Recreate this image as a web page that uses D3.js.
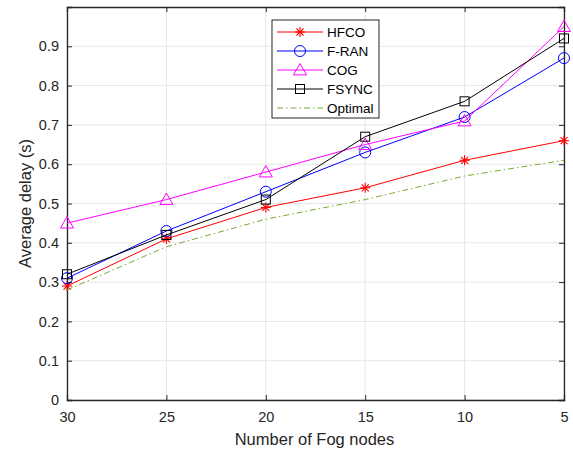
<!DOCTYPE html>
<html><head><meta charset="utf-8">
<script src="https://cdn.jsdelivr.net/npm/d3@7"></script>
<style>body{margin:0;background:#fff}svg{display:block;font-family:"Liberation Sans",Arial,sans-serif}</style>
</head><body><svg id="c" width="573" height="451"></svg>
<script>
const xValues = [30, 25, 20, 15, 10, 5];
const yTicks = [0, 0.1, 0.2, 0.3, 0.4, 0.5, 0.6, 0.7, 0.8, 0.9];
const seriesNames = ["HFCO", "F-RAN", "COG", "FSYNC", "Optimal"];
const hfco = [0.29, 0.41, 0.49, 0.54, 0.61, 0.66];
const fran = [0.31, 0.43, 0.53, 0.63, 0.72, 0.87];
const cog = [0.45, 0.51, 0.58, 0.65, 0.71, 0.95];
const fsync = [0.32, 0.42, 0.51, 0.67, 0.76, 0.92];
const optimal = [0.28, 0.39, 0.46, 0.51, 0.57, 0.61];

const series = [
  {name: seriesNames[0], vals: hfco, color: "#ff0000", marker: "star", dash: null},
  {name: seriesNames[1], vals: fran, color: "#0000ff", marker: "circle", dash: null},
  {name: seriesNames[2], vals: cog, color: "#ff00ff", marker: "triangle", dash: null},
  {name: seriesNames[3], vals: fsync, color: "#000000", marker: "square", dash: null},
  {name: seriesNames[4], vals: optimal, color: "#77ac30", marker: null, dash: "6,3,1.5,3"}
];

const svg = d3.select("#c");
const L = 67, R = 564, T = 7, B = 400;
const x = d3.scaleLinear().domain([30, 5]).range([L, R]);
const y = d3.scaleLinear().domain([0, 1]).range([B, T]);

// grid
const g = svg.append("g");
g.selectAll("line.gx").data(xValues).enter().append("line")
  .attr("x1", d => x(d)).attr("x2", d => x(d)).attr("y1", T).attr("y2", B)
  .attr("stroke", "#e6e6e6").attr("stroke-width", 1);
g.selectAll("line.gy").data(yTicks).enter().append("line")
  .attr("x1", L).attr("x2", R).attr("y1", d => y(d)).attr("y2", d => y(d))
  .attr("stroke", "#e6e6e6").attr("stroke-width", 1);

// axes
const axColor = "#262626";
const xAxis = svg.append("g").attr("transform", `translate(0,${B})`)
  .call(d3.axisBottom(x).tickValues(xValues).tickSize(-5).tickPadding(12).tickFormat(d3.format("d")));
const yAxis = svg.append("g").attr("transform", `translate(${L},0)`)
  .call(d3.axisLeft(y).tickValues(yTicks).tickSize(-5).tickPadding(8).tickFormat(d => d === 0 ? "0" : d3.format(".1f")(d)));
const xTop = svg.append("g").attr("transform", `translate(0,${T})`)
  .call(d3.axisTop(x).tickValues(xValues).tickSize(-5).tickFormat(""));
const yRight = svg.append("g").attr("transform", `translate(${R},0)`)
  .call(d3.axisRight(y).tickValues(yTicks).tickSize(-5).tickFormat(""));
[xAxis, yAxis, xTop, yRight].forEach(a => {
  a.selectAll("path").attr("stroke", axColor).attr("stroke-width", 1.3);
  a.selectAll("line").attr("stroke", axColor);
  a.selectAll("text").attr("fill", axColor).style("font-size", "14.5px").style("font-family", "Liberation Sans, Arial, sans-serif");
});

svg.append("text").attr("x", (L + R) / 2 - 1).attr("y", 445).attr("text-anchor", "middle")
  .attr("fill", axColor).style("font-size", "16.5px").text("Number of Fog nodes");
svg.append("text").attr("transform", `translate(31,${(T + B) / 2}) rotate(-90)`).attr("text-anchor", "middle")
  .attr("fill", axColor).style("font-size", "16.5px").text("Average delay (s)");

function drawMarker(sel, type, color, cx, cy) {
  if (type === "star") {
    const s = 5;
    const p = sel.append("g").attr("stroke", color).attr("stroke-width", 1.1);
    p.append("line").attr("x1", cx - s).attr("x2", cx + s).attr("y1", cy).attr("y2", cy);
    p.append("line").attr("x1", cx).attr("x2", cx).attr("y1", cy - s).attr("y2", cy + s);
    p.append("line").attr("x1", cx - s * 0.7).attr("x2", cx + s * 0.7).attr("y1", cy - s * 0.7).attr("y2", cy + s * 0.7);
    p.append("line").attr("x1", cx - s * 0.7).attr("x2", cx + s * 0.7).attr("y1", cy + s * 0.7).attr("y2", cy - s * 0.7);
  } else if (type === "circle") {
    sel.append("circle").attr("cx", cx).attr("cy", cy).attr("r", 5.5).attr("fill", "none").attr("stroke", color).attr("stroke-width", 1);
  } else if (type === "triangle") {
    const s = 6.5;
    sel.append("path").attr("d", `M${cx},${cy - s}L${cx + s},${cy + s * 0.75}L${cx - s},${cy + s * 0.75}Z`)
      .attr("fill", "none").attr("stroke", color).attr("stroke-width", 1);
  } else if (type === "square") {
    sel.append("rect").attr("x", cx - 4.5).attr("y", cy - 4.5).attr("width", 9).attr("height", 9)
      .attr("fill", "none").attr("stroke", color).attr("stroke-width", 1);
  }
}

const line = d3.line().x((d, i) => x(xValues[i])).y(d => y(d));
series.forEach(s => {
  svg.append("path").datum(s.vals).attr("d", line).attr("fill", "none")
    .attr("stroke", s.color).attr("stroke-width", 1)
    .attr("stroke-dasharray", s.dash);
  if (s.marker) {
    const mg = svg.append("g");
    s.vals.forEach((v, i) => drawMarker(mg, s.marker, s.color, x(xValues[i]), y(v)));
  }
});

// legend
const lx = 272, ly = 20, lw = 107, lh = 98;
svg.append("rect").attr("x", lx).attr("y", ly).attr("width", lw).attr("height", lh)
  .attr("fill", "#fff").attr("stroke", "#262626").attr("stroke-width", 1);
series.forEach((s, i) => {
  const cy = ly + 12 + i * 19;
  svg.append("line").attr("x1", lx + 5).attr("x2", lx + 51).attr("y1", cy).attr("y2", cy)
    .attr("stroke", s.color).attr("stroke-width", 1).attr("stroke-dasharray", s.dash);
  if (s.marker) drawMarker(svg, s.marker, s.color, lx + 28, cy);
  svg.append("text").attr("x", lx + 55).attr("y", cy + 5).attr("fill", "#000")
    .style("font-size", "13.5px").text(s.name);
});
</script></body></html>
